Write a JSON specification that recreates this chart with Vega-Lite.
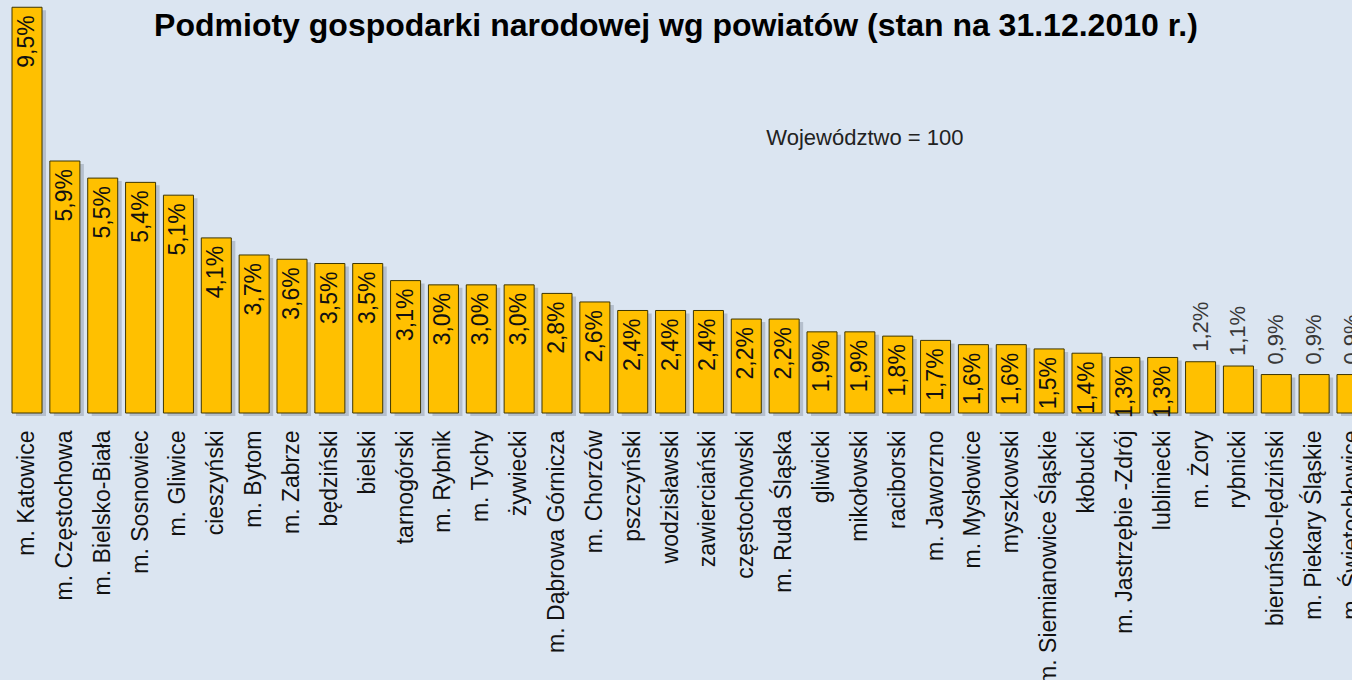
{
  "$schema": "https://vega.github.io/schema/vega-lite/v6.json",
  "autosize": {"type": "none"},
  "width": 1352,
  "height": 413,
  "padding": {"left": 0, "top": 0, "right": 0, "bottom": 267},
  "background": "#dbe5f1",
  "config": {
    "view": {"stroke": null},
    "font": "Liberation Sans",
    "locale": {"number": {"decimal": ",", "thousands": "\u00a0", "grouping": [3], "currency": ["", " zł"]}}
  },
  "title": {
    "text": "Podmioty gospodarki narodowej wg powiatów (stan na 31.12.2010 r.)",
    "fontSize": 32,
    "fontWeight": "bold",
    "font": "Liberation Sans",
    "color": "#000000",
    "anchor": "middle",
    "frame": "group",
    "offset": -43
  },
  "data": {
    "values": [
      {"powiat": "m. Katowice", "share": 0.095},
      {"powiat": "m. Częstochowa", "share": 0.059},
      {"powiat": "m. Bielsko-Biała", "share": 0.055},
      {"powiat": "m. Sosnowiec", "share": 0.054},
      {"powiat": "m. Gliwice", "share": 0.051},
      {"powiat": "cieszyński", "share": 0.041},
      {"powiat": "m. Bytom", "share": 0.037},
      {"powiat": "m. Zabrze", "share": 0.036},
      {"powiat": "będziński", "share": 0.035},
      {"powiat": "bielski", "share": 0.035},
      {"powiat": "tarnogórski", "share": 0.031},
      {"powiat": "m. Rybnik", "share": 0.030},
      {"powiat": "m. Tychy", "share": 0.030},
      {"powiat": "żywiecki", "share": 0.030},
      {"powiat": "m. Dąbrowa Górnicza", "share": 0.028},
      {"powiat": "m. Chorzów", "share": 0.026},
      {"powiat": "pszczyński", "share": 0.024},
      {"powiat": "wodzisławski", "share": 0.024},
      {"powiat": "zawierciański", "share": 0.024},
      {"powiat": "częstochowski", "share": 0.022},
      {"powiat": "m. Ruda Śląska", "share": 0.022},
      {"powiat": "gliwicki", "share": 0.019},
      {"powiat": "mikołowski", "share": 0.019},
      {"powiat": "raciborski", "share": 0.018},
      {"powiat": "m. Jaworzno", "share": 0.017},
      {"powiat": "m. Mysłowice", "share": 0.016},
      {"powiat": "myszkowski", "share": 0.016},
      {"powiat": "m. Siemianowice Śląskie", "share": 0.015},
      {"powiat": "kłobucki", "share": 0.014},
      {"powiat": "m. Jastrzębie -Zdrój", "share": 0.013},
      {"powiat": "lubliniecki", "share": 0.013},
      {"powiat": "m. Żory", "share": 0.012},
      {"powiat": "rybnicki", "share": 0.011},
      {"powiat": "bieruńsko-lędziński", "share": 0.009},
      {"powiat": "m. Piekary Śląskie", "share": 0.009},
      {"powiat": "m. Świętochłowice", "share": 0.009}
    ]
  },
  "encoding": {
    "x": {
      "field": "powiat",
      "type": "nominal",
      "sort": null,
      "scale": {"range": [12, 1367], "paddingInner": 0.207, "paddingOuter": 0},
      "axis": {
        "title": null,
        "orient": "bottom",
        "labelAngle": -90,
        "labelFontSize": 23,
        "labelFont": "Liberation Sans",
        "labelColor": "#111111",
        "labelPadding": 17,
        "labelLimit": 400,
        "labelOverlap": false,
        "ticks": false,
        "domain": false,
        "grid": false
      }
    },
    "y": {
      "field": "share",
      "type": "quantitative",
      "scale": {"domain": [0, 0.0967], "nice": false, "zero": true},
      "axis": null
    }
  },
  "layer": [
    {
      "mark": {"type": "bar", "color": "#7d8898", "opacity": 0.4, "xOffset": 4, "yOffset": 3}
    },
    {
      "mark": {"type": "bar", "color": "#FFC000", "stroke": "#3d3500", "strokeWidth": 1}
    },
    {
      "transform": [{"filter": "datum.share >= 0.0125"}],
      "mark": {"type": "text", "angle": -90, "align": "right", "baseline": "middle", "dx": -8, "fontSize": 23, "font": "Liberation Sans", "color": "#111111"},
      "encoding": {"text": {"field": "share", "type": "quantitative", "format": ".1%"}}
    },
    {
      "transform": [{"filter": "datum.share < 0.0125"}],
      "mark": {"type": "text", "angle": -90, "align": "left", "baseline": "middle", "dx": 10, "fontSize": 22, "font": "Liberation Sans", "color": "#383838"},
      "encoding": {"text": {"field": "share", "type": "quantitative", "format": ".1%"}}
    },
    {
      "data": {"values": [{"powiat": "mikołowski", "share": 0.0643, "note": "Województwo = 100"}]},
      "mark": {"type": "text", "align": "center", "baseline": "middle", "dx": 5, "fontSize": 22, "font": "Liberation Sans", "color": "#222222"},
      "encoding": {
        "text": {"field": "note", "type": "nominal"}
      }
    }
  ]
}
